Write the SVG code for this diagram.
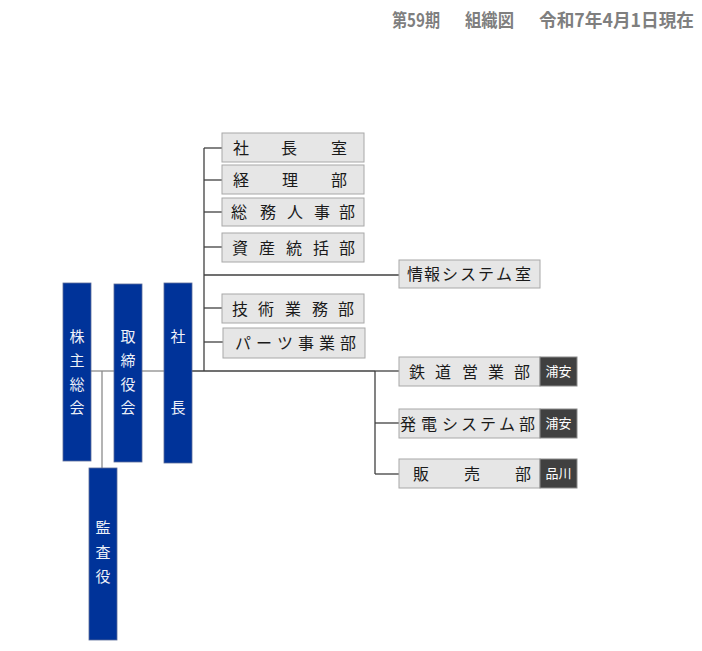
<svg xmlns="http://www.w3.org/2000/svg" width="702" height="651" viewBox="0 0 702 651">
<style>
.title{font-family:"Noto Sans CJK JP","Noto Sans",sans-serif;font-size:18px;font-weight:bold;fill:#7f7f7f}
.box{fill:#e6e6e6;stroke:#a8a8a8;stroke-width:1}
.tag{fill:#404040;stroke:#8a8a8a;stroke-width:1}
.blue{fill:#003399;stroke:#5b6b98;stroke-width:0.8}
.t{font-family:"Noto Sans CJK JP","Noto Sans",sans-serif;font-size:16px;fill:#1a1a1a;text-anchor:middle}
.tt{font-family:"Noto Sans CJK JP","Noto Sans",sans-serif;font-size:13px;fill:#ffffff;text-anchor:middle}
.bt{font-family:"Noto Sans CJK JP","Noto Sans",sans-serif;font-size:15px;fill:#eef1f8;text-anchor:middle}
.ln{stroke:#404040;stroke-width:1.3;fill:none}
.lg{stroke:#8c8c8c;stroke-width:1.3;fill:none}
</style>
<g id="title">
<text class="title" x="392" y="27" textLength="48" lengthAdjust="spacingAndGlyphs">第59期</text>
<text class="title" x="465" y="27" textLength="49" lengthAdjust="spacingAndGlyphs">組織図</text>
<text class="title" x="539" y="27" textLength="155" lengthAdjust="spacingAndGlyphs">令和7年4月1日現在</text>
</g>
<g id="connectors">
<line class="lg" x1="91" y1="371" x2="114" y2="371"/>
<line class="lg" x1="102" y1="371" x2="102" y2="468" stroke-width="2"/>
<line class="lg" x1="142" y1="371" x2="164" y2="371"/>
<line class="ln" x1="192" y1="371" x2="375" y2="371"/>
<line class="ln" x1="204" y1="148" x2="204" y2="371"/>
<line class="ln" x1="204" y1="148" x2="222" y2="148"/>
<line class="ln" x1="204" y1="180" x2="222" y2="180"/>
<line class="ln" x1="204" y1="212" x2="222" y2="212"/>
<line class="ln" x1="204" y1="247" x2="222" y2="247"/>
<line class="ln" x1="204" y1="275" x2="399" y2="275"/>
<line class="ln" x1="204" y1="308" x2="222" y2="308"/>
<line class="ln" x1="204" y1="342" x2="223" y2="342"/>
<line class="ln" x1="375" y1="371" x2="375" y2="474"/>
<line class="ln" x1="375" y1="371" x2="399" y2="371"/>
<line class="ln" x1="375" y1="423" x2="399" y2="423"/>
<line class="ln" x1="375" y1="474" x2="399" y2="474"/>
</g>
<g id="kabunushi">
<rect class="blue" x="63" y="283" width="28" height="178"/>
<text class="bt" x="77" y="342">株</text>
<text class="bt" x="77" y="366">主</text>
<text class="bt" x="77" y="390">総</text>
<text class="bt" x="77" y="413">会</text>
</g>
<g id="torishimariyaku">
<rect class="blue" x="114" y="284" width="28" height="178"/>
<text class="bt" x="128" y="342">取</text>
<text class="bt" x="128" y="366">締</text>
<text class="bt" x="128" y="390">役</text>
<text class="bt" x="128" y="413">会</text>
</g>
<g id="shacho">
<rect class="blue" x="164" y="283" width="28" height="180"/>
<text class="bt" x="178" y="342">社</text>
<text class="bt" x="178" y="413">長</text>
</g>
<g id="kansayaku">
<rect class="blue" x="89" y="468" width="28" height="172"/>
<text class="bt" x="103" y="533">監</text>
<text class="bt" x="103" y="558">査</text>
<text class="bt" x="103" y="582">役</text>
</g>
<g id="shachoshitsu">
<rect class="box" x="222" y="133" width="142" height="29"/>
<text class="t" x="241 289 339" y="153.5">社長室</text>
</g>
<g id="keiri">
<rect class="box" x="222" y="165" width="142" height="29"/>
<text class="t" x="241 290 339" y="185.5">経理部</text>
</g>
<g id="somujinji">
<rect class="box" x="222" y="198" width="142" height="28"/>
<text class="t" x="239 268 295 322 347" y="218">総務人事部</text>
</g>
<g id="shisan">
<rect class="box" x="222" y="233" width="142" height="29"/>
<text class="t" x="240 267 294 321 347" y="253.5">資産統括部</text>
</g>
<g id="gijutsu">
<rect class="box" x="222" y="294" width="142" height="29"/>
<text class="t" x="240 266 293 320 346" y="314.5">技術業務部</text>
</g>
<g id="parts">
<rect class="box" x="223" y="328" width="142" height="30"/>
<text class="t" x="243 264 285 306 327 348" y="349">パーツ事業部</text>
</g>
<g id="joho">
<rect class="box" x="399" y="260" width="141" height="28"/>
<text class="t" x="415 432 450 468 486 504 523" y="280" font-size="15">情報システム室</text>
</g>
<g id="tetsudo">
<rect class="box" x="399" y="357" width="141" height="29"/>
<rect class="tag" x="540" y="357" width="37" height="29"/>
<text class="t" x="417 443 470 496 522" y="377.5">鉄道営業部</text>
<text class="tt" x="558.5" y="376">浦安</text>
</g>
<g id="hatsuden">
<rect class="box" x="399" y="409" width="141" height="29"/>
<rect class="tag" x="540" y="409" width="37" height="29"/>
<text class="t" x="408 429 450 469 488 507 527" y="429.5">発電システム部</text>
<text class="tt" x="558.5" y="428">浦安</text>
</g>
<g id="hanbai">
<rect class="box" x="399" y="459" width="141" height="29"/>
<rect class="tag" x="540" y="459" width="37" height="29"/>
<text class="t" x="421 472 523" y="479.5">販売部</text>
<text class="tt" x="558.5" y="478">品川</text>
</g>
</svg>
